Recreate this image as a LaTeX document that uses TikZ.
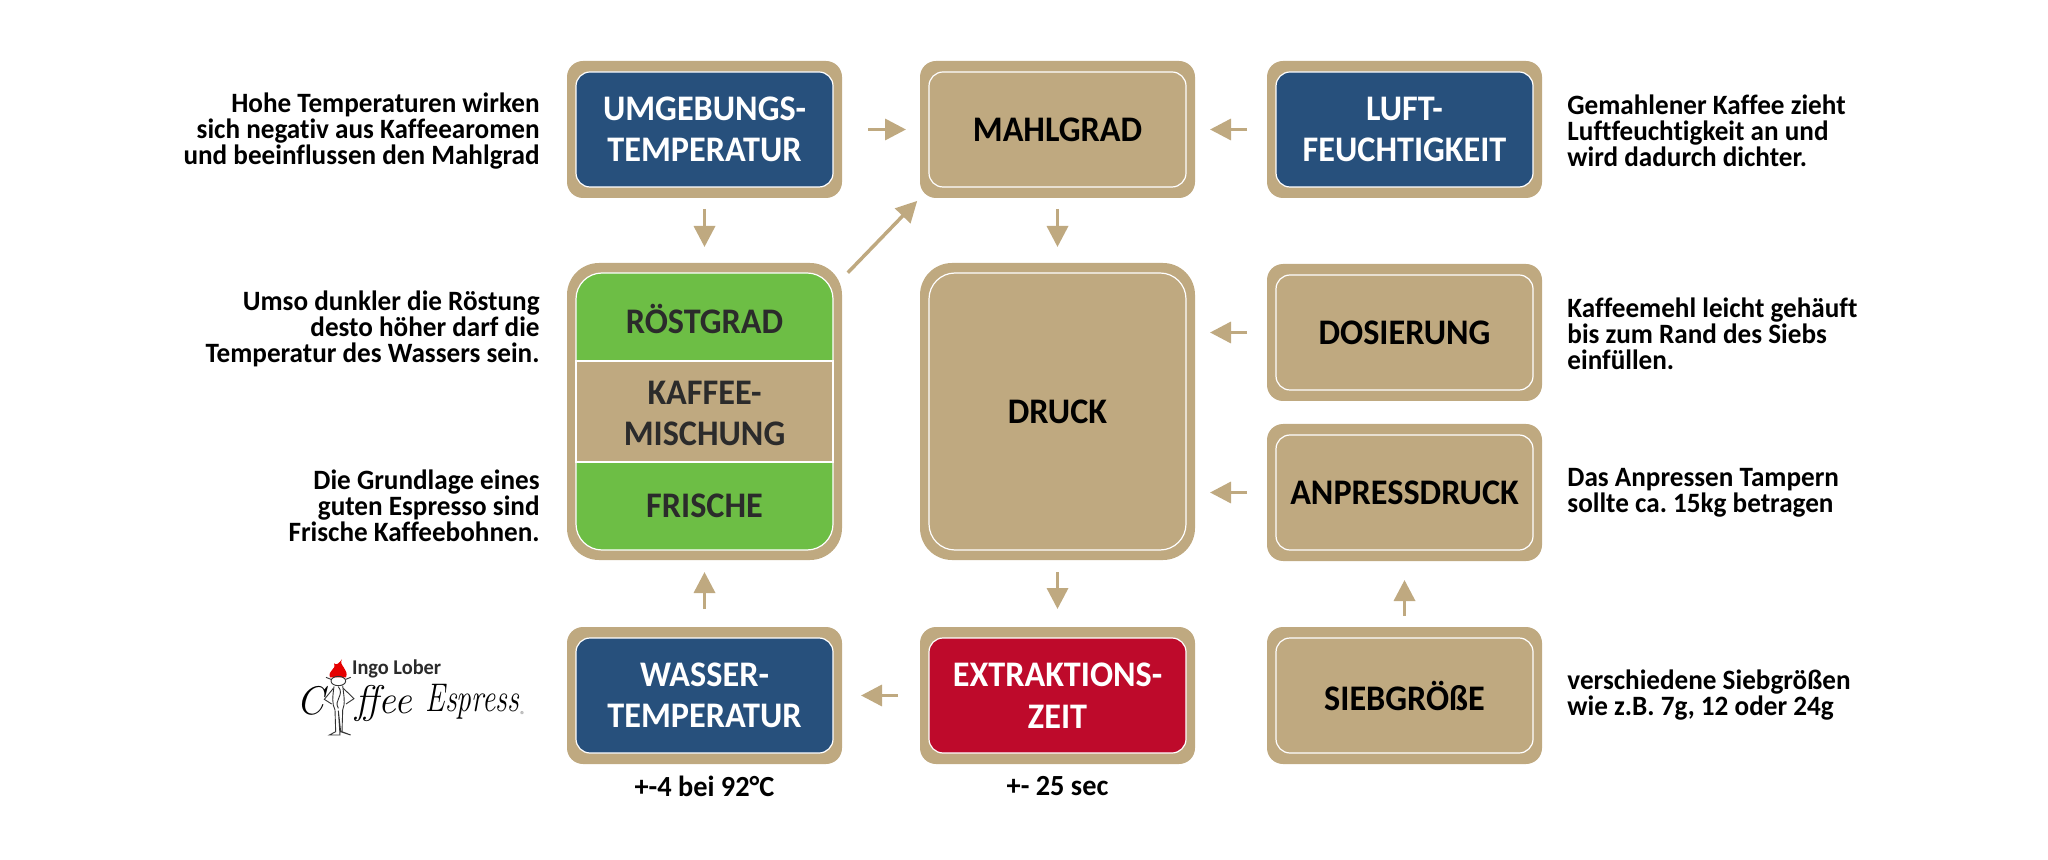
\documentclass[tikz,border=0pt]{standalone}
\usepackage{fontspec}
\usetikzlibrary{arrows.meta,positioning}
\newfontfamily\labelfont[FakeStretch=0.95,Ligatures={NoCommon,NoContextual},BoldFont={Carlito Bold}]{Carlito}
\newfontfamily\notefont[FakeStretch=0.97,Ligatures={NoCommon,NoContextual},BoldFont={Carlito Bold}]{Carlito}
\frenchspacing
\definecolor{tan}{HTML}{BFA980}
\definecolor{navy}{HTML}{27507C}
\definecolor{leaf}{HTML}{6DBE45}
\definecolor{wine}{HTML}{BE0A2B}
\definecolor{coal}{HTML}{2B2B2B}

\tikzset{
  frame/.style={fill=tan,inner sep=0pt,outer sep=0pt,minimum width=137.5pt,minimum height=68.5pt,rounded corners=8pt},
  tallframe/.style={frame,minimum height=148.5pt,rounded corners=16pt},
  panel/.style={draw=white,line width=0.6pt,inner sep=0pt,minimum width=128.5pt,minimum height=57.5pt,rounded corners=7pt,
    align=center,font=\labelfont\bfseries\fontsize{18}{20.8}\selectfont},
  tallpanel/.style={panel,minimum height=138.5pt,rounded corners=13pt},
  band/.style={draw=white,line width=0.6pt,fill=tan,inner sep=0pt,minimum width=128.5pt,minimum height=50.5pt},
  word/.style={align=center,text=coal,inner sep=0pt,font=\labelfont\bfseries\fontsize{18}{20.8}\selectfont},
  note/.style={inner sep=0pt,font=\notefont\bfseries\fontsize{14}{12.9}\selectfont},
  undernote/.style={inner sep=0pt,font=\notefont\bfseries\fontsize{14.6}{14.6}\selectfont},
  flow/.style={draw=tan,line width=1.75pt,-{Triangle[length=10.5pt,width=10.5pt]}},
  sketch/.style={draw=black!80,line width=0.45pt},
}

\begin{document}
\begin{tikzpicture}[x=0.5pt,y=-0.5pt]
\useasboundingbox (0,0) rectangle (2048,860);

% top row
\node[frame] (umgebung) at (704.5,129.5) {};
\node[panel,fill=navy,text=white] (umgebungtext) at (umgebung) {UMGEBUNGS-\\TEMPERATUR};
\node[frame] (mahlgrad) at (1057.5,129.5) {};
\node[panel,fill=tan,text=black] (mahlgradtext) at (mahlgrad) {MAHLGRAD};
\node[frame] (luft) at (1404.5,129.5) {};
\node[panel,fill=navy,text=white] (lufttext) at (luft) {LUFT-\\FEUCHTIGKEIT};

% middle
\node[tallframe] (kaffee) at (704.5,411.5) {};
\node[tallpanel,fill=leaf] (kaffeetext) at (kaffee) {};
\node[band] (mischung) at (kaffee) {};
\node[word] (mischungtext) at (704.5,413.5) {KAFFEE-\\MISCHUNG};
\node[word] (roestgrad) at (704.5,319) {RÖSTGRAD};
\node[word] (frische) at (704.5,505.5) {FRISCHE};
\node[tallframe] (druck) at (1057.5,411.5) {};
\node[tallpanel,fill=tan,text=black] (drucktext) at (druck) {DRUCK};
\node[frame] (dosierung) at (1404.5,332.5) {};
\node[panel,fill=tan,text=black] (dosierungtext) at (dosierung) {DOSIERUNG};
\node[frame] (anpress) at (1404.5,492.5) {};
\node[panel,fill=tan,text=black] (anpresstext) at (anpress) {ANPRESSDRUCK};

% bottom row
\node[frame] (wasser) at (704.5,695.5) {};
\node[panel,fill=navy,text=white] (wassertext) at (wasser) {WASSER-\\TEMPERATUR};
\node[frame] (extraktion) at (1057.5,695.5) {};
\node[panel,fill=wine,text=white] (extraktiontext) at (extraktion) {EXTRAKTIONS-\\ZEIT};
\node[frame] (sieb) at (1404.5,695.5) {};
\node[panel,fill=tan,text=black] (siebtext) at (sieb) {SIEBGRÖßE};

% arrows
\draw[flow,shorten <=13pt,shorten >=7pt] (umgebung.east) -- (mahlgrad.west);
\draw[flow,shorten <=10pt,shorten >=7.5pt] (luft.west) -- (mahlgrad.east);
\draw[flow,shorten <=5.5pt,shorten >=8pt] (umgebung.south) -- (kaffee.north);
\draw[flow,shorten <=5.5pt,shorten >=8pt] (mahlgrad.south) -- (druck.north);
\draw[flow,shorten <=4.2pt,shorten >=2pt] (kaffee.44.6) -- (mahlgrad.south west);
\draw[flow,shorten <=10pt,shorten >=7.5pt] (dosierung.west) -- (dosierung.west -| druck.east);
\draw[flow,shorten <=10pt,shorten >=7.5pt] (anpress.west) -- (anpress.west -| druck.east);
\draw[flow,shorten <=6pt,shorten >=9pt] (druck.south) -- (extraktion.north);
\draw[flow,shorten <=9pt,shorten >=6pt] (wasser.north) -- (kaffee.south);
\draw[flow,shorten <=11pt,shorten >=9.5pt] (extraktion.west) -- (wasser.east);
\draw[flow,shorten <=5.5pt,shorten >=9.5pt] (sieb.north) -- (anpress.south);

% notes left
\node[note,align=right,anchor=east] (noteumgebung) at (540,131) {Hohe Temperaturen wirken\\sich negativ aus Kaffeearomen\\und beeinflussen den Mahlgrad};
\node[note,align=right,anchor=east] (noteroest) at (540,329) {Umso dunkler die Röstung\\desto höher darf die\\Temperatur des Wassers sein.};
\node[note,align=right,anchor=east] (notefrische) at (540,506) {Die Grundlage eines\\guten Espresso sind\\Frische Kaffeebohnen.};

% notes right
\node[note,align=left,anchor=west] (noteluft) at (1567,131) {Gemahlener Kaffee zieht\\Luftfeuchtigkeit an und\\wird dadurch dichter.};
\node[note,align=left,anchor=west] (notedosierung) at (1567,334) {Kaffeemehl leicht gehäuft\\bis zum Rand des Siebs\\einfüllen.};
\node[note,align=left,anchor=west] (noteanpress) at (1567,493) {Das Anpressen Tampern\\sollte ca. 15kg betragen};
\node[note,align=left,anchor=west] (notesieb) at (1567,695) {verschiedene Siebgrößen\\wie z.B. 7g, 12 oder 24g};

% notes below
\node[undernote] (notewasser) at (704.5,786) {+-4 bei 92°C};
\node[undernote] (noteextraktion) at (1057.5,786) {+- 25 sec};

% logo
\begin{scope}[shift={(270,620)},x=0.1667pt,y=-0.1667pt]
  \fill[red!90!black] (180,172) .. controls (172,150) and (200,150) .. (192,130) .. controls (200,138) and (208,128) .. (216,118) .. controls (204,135) and (238,148) .. (228,172) -- cycle;
  \draw[sketch] (205,183) ellipse (22 and 14);
  \draw[sketch] (183,178) -- (168,172);
  \draw[sketch] (227,178) -- (242,172);
  \draw[sketch] (192,199) .. controls (188,230) and (185,250) .. (195,270) -- (197,335) -- (178,345) -- (210,345) -- (205,272) -- (212,335) -- (242,345) -- (216,335) -- (218,270) .. controls (226,250) and (222,230) .. (218,197);
  \draw[sketch] (190,205) -- (163,238) -- (185,252);
  \draw[sketch] (220,205) -- (252,236) -- (228,252);
  \draw[sketch] (205,200) .. controls (225,225) and (190,240) .. (205,265);
  \node[inner sep=0pt,anchor=west,font=\notefont\bfseries\fontsize{10.5}{12}\selectfont,text=coal] (logoname) at (245,148) {Ingo Lober};
  \node[inner sep=0pt,anchor=west,font=\itshape\fontsize{20}{20}\selectfont] (logoc) at (78,243) {C};
  \node[inner sep=0pt,anchor=west,font=\itshape\fontsize{20}{20}\selectfont] (logoffee) at (255,250) {\scalebox{0.98}[1]{ffee}};
  \node[inner sep=0pt,anchor=west,font=\itshape\fontsize{20}{20}\selectfont] (logoespress) at (465,246) {\scalebox{0.74}[1]{Espress}};
  \node[inner sep=0pt,anchor=west,font=\labelfont\fontsize{5}{5}\selectfont,text=black!60] (logomark) at (750,285) {®};
\end{scope}

\end{tikzpicture}
\end{document}
